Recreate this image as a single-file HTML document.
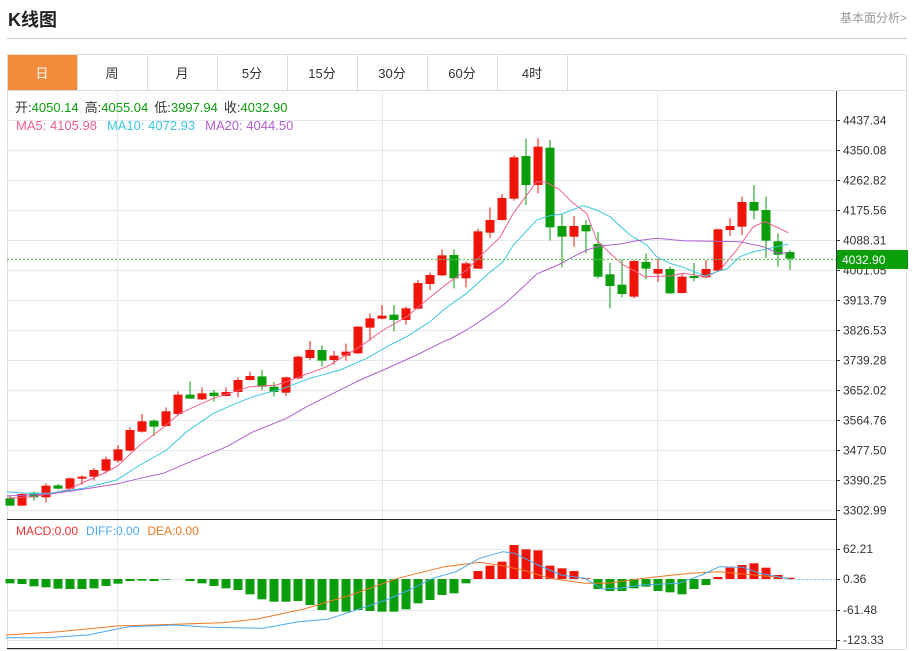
<!DOCTYPE html>
<html><head><meta charset="utf-8">
<style>
body{margin:0;width:913px;height:651px;background:#fff;font-family:"Liberation Sans","Noto Sans CJK SC",sans-serif;overflow:hidden;position:relative}
.t{position:absolute;white-space:nowrap}
</style></head><body>
<div class="t" style="left:8px;top:6px;font-size:18px;font-weight:bold;color:#222">K线图</div>
<div class="t" style="right:6px;top:9px;font-size:12px;color:#999">基本面分析&gt;</div>
<div style="position:absolute;left:7px;top:38px;width:900px;height:1px;background:#ccc"></div>
<svg id="s" width="913" height="651" style="position:absolute;left:0;top:0" font-family="Liberation Sans, Noto Sans CJK SC, sans-serif"></svg>
<script>
var s=document.getElementById('s'),h='';
function L(x1,y1,x2,y2,c,w,d){h+='<line x1="'+x1+'" y1="'+y1+'" x2="'+x2+'" y2="'+y2+'" stroke="'+c+'" stroke-width="'+(w||1)+'"'+(d?' stroke-dasharray="'+d+'"':'')+'/>';}
function R(x,y,w,hh,c){h+='<rect x="'+x+'" y="'+y+'" width="'+w+'" height="'+hh+'" fill="'+c+'"/>';}
function T(x,y,t,c,sz,a){h+='<text x="'+x+'" y="'+y+'" fill="'+c+'" font-size="'+sz+'"'+(a?' text-anchor="'+a+'"':'')+'>'+t+'</text>';}
h+='<rect x="7.5" y="54.5" width="899" height="595" fill="none" stroke="#ddd"/>';
L(7,90.5,907,90.5,'#ddd');
R(8,55,69,35,'#f28c3c');
var tabs=['日','周','月','5分','15分','30分','60分','4时'];
for(var i=0;i<8;i++){var x=7+70*i;if(i>0)L(x+0.5,55,x+0.5,90,'#ddd');T(x+35,78,tabs[i],i==0?'#fff':'#333',13,'middle');}
L(567.5,55,567.5,90,'#ddd');
var ticks=['4437.34','4350.08','4262.82','4175.56','4088.31','4001.05','3913.79','3826.53','3739.28','3652.02','3564.76','3477.50','3390.25','3302.99'];
for(var i=0;i<14;i++){var y=120+i*30+0.5;L(7,y,836,y,'#e6eaef');L(836,y,840,y,'#333');T(843,y+4,ticks[i],'#333',12);}
[117.5,382.5,657.5].forEach(function(x){L(x,91,x,649,'#e6eaef');});
var my=[549,579,610,640],ml=['62.21','0.36','-61.48','-123.33'];
for(var i=0;i<4;i++){L(7,my[i]+0.5,836,my[i]+0.5,'#e6eaef');L(836,my[i]+0.5,840,my[i]+0.5,'#333');T(843,my[i]+4,ml[i],'#333',12);}
L(836.5,91,836.5,649,'#333');L(7,519.5,836,519.5,'#222');L(7,648.5,836,648.5,'#222');
var C=[[1135,1157,1125,1157,0],[1122,1157,1120,1157,1],[1118,1132,1115,1142,0],[1097,1132,1090,1148,1],[1096,1106,1092,1108,0],[1075,1106,1073,1115,1],[1070,1076,1066,1094,1],[1050,1070,1044,1082,1],[1018,1052,1010,1060,1],[988,1022,975,1028,1],[930,992,922,995,1],[904,935,882,938,1],[902,920,898,948,0],[874,918,862,920,1],[824,882,814,888,1],[824,836,784,836,0],[820,838,802,840,1],[818,828,810,845,0],[816,828,802,830,1],[780,816,772,832,1],[768,780,755,782,1],[769,800,750,810,0],[800,816,786,830,0],[772,818,770,828,1],[710,775,707,778,1],[690,714,663,720,1],[690,722,676,740,0],[707,720,693,734,1],[695,707,671,722,1],[620,700,618,702,1],[595,623,580,662,1],[587,596,555,598,1],[584,600,555,634,0],[565,600,560,614,1],[489,566,480,568,1],[465,492,458,510,1],[406,466,388,468,1],[405,475,388,505,0],
[430,475,425,502,1],[334,446,326,446,1],[300,338,262,354,1],[234,300,222,302,1],[112,236,106,242,1],[108,195,56,255,0],[80,195,54,220,1],[83,322,60,362,0],[318,350,282,442,0],[318,350,288,380,1],[315,334,300,400,0],[372,470,336,476,0],[463,498,428,565,0],[494,522,418,532,0],[423,530,420,535,1],[426,446,400,478,0],[447,461,416,486,1],[447,520,440,522,0],[470,519,460,520,1],[468,474,428,484,0],[447,472,420,474,1],[328,452,326,456,1],[318,330,294,348,1],[246,320,230,345,1],[246,272,195,298,0],[270,362,230,414,0],[364,404,340,440,0],[396,416,390,450,0]];
for(var i=0;i<C.length;i++){var c=C[i],x=10+12*i,col=c[4]?'#f01408':'#0a9e0a';
L(x,120+c[2]/3,x,120+c[3]/3,col);R(x-4.5,120+c[0]/3,9,Math.max(1,(c[1]-c[0])/3),col);}
function P(pts,col,xs,xo,ys,yo,w){var d='';pts.forEach(function(p,j){d+=(j?'L':'M')+(p[0]/xs+xo).toFixed(1)+' '+(p[1]/ys+yo).toFixed(1);});h+='<path d="'+d+'" fill="none" stroke="'+col+'" stroke-width="'+(w||1)+'"/>';}
function M(a,b,col){var pts=a.map(function(p){return [p[0]/3,p[1]/3+120];}).concat(b.map(function(p){return [p[0]/3+450,p[1]/3+120];}));P(pts,col,1,0,1,0);}
M([[20,1135],[100,1130],[200,1110],[300,1065],[350,1040],[420,975],[480,930],[540,880],[640,835],[750,800],[830,795],[900,770],[980,740],[1080,680],[1150,630],[1220,590],[1280,540],[1330,500]],[[0,485],[50,450],[100,400],[150,352],[190,280],[260,185],[290,187],[330,210],[370,250],[410,280],[440,360],[480,400],[520,435],[585,470],[660,468],[700,460],[770,470],[810,450],[860,390],[910,320],[945,305],[1015,338]],'#f0608a');
M([[20,1115],[80,1120],[150,1120],[250,1105],[350,1080],[420,1035],[500,990],[560,935],[640,880],[720,845],[760,830],[850,805],[930,775],[1020,750],[1100,715],[1170,675],[1220,650],[1290,605],[1330,570]],[[0,555],[50,520],[110,465],[160,425],[190,375],[260,300],[300,287],[335,282],[400,257],[440,270],[480,290],[540,345],[590,375],[620,410],[660,430],[700,442],[765,468],[800,455],[830,447],[870,410],[910,395],[960,385],[1015,372]],'#3cc8e0');
M([[20,1128],[150,1122],[250,1108],[350,1092],[420,1075],[490,1060],[560,1030],[680,980],[760,935],[860,895],[920,860],[1000,820],[1080,780],[1150,750],[1250,705],[1330,665]],[[0,657],[50,630],[110,590],[160,555],[210,510],[260,462],[330,432],[370,410],[410,390],[450,378],[510,372],[560,362],[620,355],[700,362],[870,365],[940,380],[980,398],[1015,400]],'#b060d0');
L(7,259.5,836,259.5,'#5cc85c',1.3,'2,2');
R(837,250,71,19,'#0a9e0a');T(842,264,'4032.90','#fff',12);
var B=[205,207,214,217,221,222,222,220,213,206,198,197,198,194,192,198,205,213,220,225,238,253,260,260,258,270,285,290,290,285,288,290,290,283,265,255,240,235,205,168,152,140,90,103,106,152,160,168,190,222,228,228,220,215,228,232,238,222,210,186,158,150,145,158,180,188];
for(var i=0;i<B.length;i++){var x=10+12*i,v=(B[i]-192)/3;if(Math.abs(v)<0.5)continue;
if(v>0)R(x-4.5,579,9,v,'#0a9e0a');else R(x-4.5,579+v,9,-v,'#f01408');}
L(790,579.5,836,579.5,'#9cd0e8',1,'2,2');
P([[10,360],[100,350],[200,333],[300,328],[380,323],[440,312],[520,282],[600,240],[680,190],[760,155],[820,142],[860,152],[900,168],[940,190],[1000,205],[1040,205],[1100,190],[1180,175],[1230,170],[1290,180],[1350,190]],'#f07820',1.71,0,3,515);
P([[10,368],[80,368],[150,360],[220,335],[300,330],[360,337],[450,340],[510,320],[560,313],[600,290],[660,255],[700,225],[740,190],[780,170],[820,130],[860,110],[880,115],[920,150],[960,180],[1000,190],[1030,222],[1060,220],[1100,210],[1160,205],[1200,180],[1230,155],[1270,157],[1300,175],[1350,192]],'#4aa8f0',1.71,0,3,515);
h+='<text x="15" y="112" font-size="13"><tspan fill="#333">开:</tspan><tspan fill="#0a9e0a">4050.14</tspan><tspan fill="#333" dx="6">高:</tspan><tspan fill="#0a9e0a">4055.04</tspan><tspan fill="#333" dx="6">低:</tspan><tspan fill="#0a9e0a">3997.94</tspan><tspan fill="#333" dx="6">收:</tspan><tspan fill="#0a9e0a">4032.90</tspan></text>';
h+='<text x="16" y="130" font-size="13"><tspan fill="#f0608a">MA5: 4105.98</tspan><tspan fill="#3cc8e0" dx="10">MA10: 4072.93</tspan><tspan fill="#b060d0" dx="10">MA20: 4044.50</tspan></text>';
h+='<text x="16" y="535" font-size="12"><tspan fill="#f03030">MACD:0.00</tspan><tspan fill="#4aa8f0" dx="8">DIFF:0.00</tspan><tspan fill="#f07820" dx="8">DEA:0.00</tspan></text>';
s.innerHTML=h;
</script>
</body></html>
